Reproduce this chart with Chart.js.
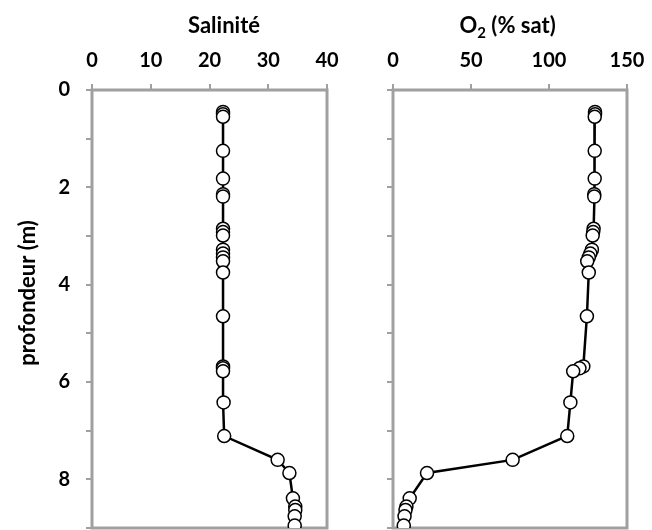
<!DOCTYPE html>
<html>
<head>
<meta charset="utf-8">
<script src="https://cdn.jsdelivr.net/npm/chart.js@4.4.1/dist/chart.umd.min.js"></script>
<style>
  body { margin: 0; background: #fff; }
  #wrap { position: relative; width: 652px; height: 530px; overflow: hidden; }
  canvas { position: absolute; top: 0; }
</style>
</head>
<body>
<div id="wrap">
  <canvas id="salChart" width="363" height="530" style="left:0px"></canvas>
  <canvas id="oxyChart" width="289" height="530" style="left:363px"></canvas>
</div>
<script>
// profondeur (m), shared by both profiles
var depth = [0.45, 0.50, 0.55, 1.25, 1.82, 2.14, 2.19, 2.85, 2.92, 2.99,
             3.28, 3.36, 3.44, 3.52, 3.75, 4.65, 5.68, 5.72, 5.78, 6.42,
             7.11, 7.60, 7.87, 8.39, 8.56, 8.63, 8.76, 8.95];
var salinite = [22.3, 22.3, 22.3, 22.3, 22.3, 22.3, 22.3, 22.3, 22.3, 22.3,
                22.3, 22.3, 22.3, 22.3, 22.3, 22.3, 22.3, 22.3, 22.3, 22.4,
                22.5, 31.6, 33.6, 34.2, 34.6, 34.6, 34.5, 34.5];
var oxygene = [129.5, 129.5, 129.3, 129.3, 129.3, 129.0, 129.0, 128.6, 128.3, 128.0,
               127.5, 126.5, 125.5, 124.5, 125.5, 124.3, 122.0, 119.5, 115.5, 113.7,
               111.7, 76.7, 21.8, 10.7, 8.6, 8.0, 7.4, 6.9];
var depthLabels = [0, 2, 4, 6, 8];

var GREY = "#a0a0a0";

Chart.defaults.font.family = "Lato";
Chart.defaults.font.weight = "bold";
Chart.defaults.color = "black";

// box round the plot area
var frame = {
  id: "frame",
  beforeDatasetsDraw: function(chart) {
    var a = chart.chartArea, ctx = chart.ctx;
    ctx.save();
    ctx.strokeStyle = GREY;
    ctx.lineWidth = 3;
    ctx.strokeRect(a.left, a.top, a.right - a.left, a.bottom - a.top);
    ctx.restore();
  }
};

// panel title (drawn in pieces so O2 gets a real subscript) and y title
var panelTitle = {
  id: "panelTitle",
  afterDraw: function(chart, args, opts) {
    var ctx = chart.ctx, w = 0;
    ctx.save();
    opts.parts.forEach(function(p) {
      ctx.font = "bold " + p.size + "px Lato";
      p.w = ctx.measureText(p.text).width;
      w += p.w;
    });
    var x = opts.x - w / 2;
    ctx.fillStyle = "black";
    ctx.textBaseline = "alphabetic";
    opts.parts.forEach(function(p) {
      ctx.font = "bold " + p.size + "px Lato";
      ctx.fillText(p.text, x, opts.y + (p.dy || 0));
      x += p.w;
    });
    if (opts.yTitle) {
      ctx.translate(opts.yTitle.x, opts.yTitle.y);
      ctx.rotate(-Math.PI / 2);
      ctx.font = "bold 22px Lato";
      ctx.textAlign = "center";
      ctx.textBaseline = "middle";
      ctx.fillText(opts.yTitle.text, 0, 0);
    }
    ctx.restore();
  }
};

function makeChart(id, values, titleOpts, xMax, xStep, yLabels, padRight, yWidth) {
  var pts = values.map(function(v, i) { return {x: v, y: depth[i]}; });
  return new Chart(document.getElementById(id), {
    type: "scatter",
    data: {
      datasets: [{
        data: pts,
        showLine: true,
        borderColor: "black",
        borderWidth: 2.5,
        pointRadius: 6.5,
        pointBorderWidth: 1.5,
        pointBorderColor: "black",
        pointBackgroundColor: "white"
      }]
    },
    options: {
      responsive: false,
      animation: false,
      devicePixelRatio: 1,
      layout: { autoPadding: false, padding: { left: 0, top: 0, right: padRight, bottom: 2 } },
      plugins: {
        legend: { display: false },
        tooltip: { enabled: false },
        panelTitle: titleOpts
      },
      scales: {
        x: {
          position: "top",
          min: 0,
          max: xMax,
          ticks: { stepSize: xStep, padding: 11, font: { size: 20 } },
          grid: { drawOnChartArea: false, tickLength: 6, color: GREY, lineWidth: 2 },
          border: { display: false },
          afterFit: function(s) {
            s.height = 90;
            s.paddingLeft = 0; s.paddingRight = 0;
          }
        },
        y: {
          reverse: true,
          min: 0,
          max: 9,
          ticks: {
            stepSize: 1,
            padding: 16,
            font: { size: 20 },
            callback: function(v) {
              return yLabels && depthLabels.indexOf(v) >= 0 ? v : "";
            }
          },
          grid: { drawOnChartArea: false, tickLength: 6, color: GREY, lineWidth: 2 },
          border: { display: false },
          afterFit: function(s) {
            s.width = yWidth;
            s.paddingTop = 0; s.paddingBottom = 0;
          }
        }
      }
    },
    plugins: [frame, panelTitle]
  });
}

makeChart("salChart", salinite,
  { parts: [{text: "Salinité", size: 22}], x: 224, y: 33,
    yTitle: { text: "profondeur (m)", x: 28, y: 293 } },
  40, 10, true, 36, 92);
makeChart("oxyChart", oxygene,
  { parts: [{text: "O", size: 22}, {text: "2", size: 15, dy: 5}, {text: " (% sat)", size: 22}],
    x: 144.6, y: 33 },
  150, 50, false, 25, 30);
</script>
</body>
</html>
